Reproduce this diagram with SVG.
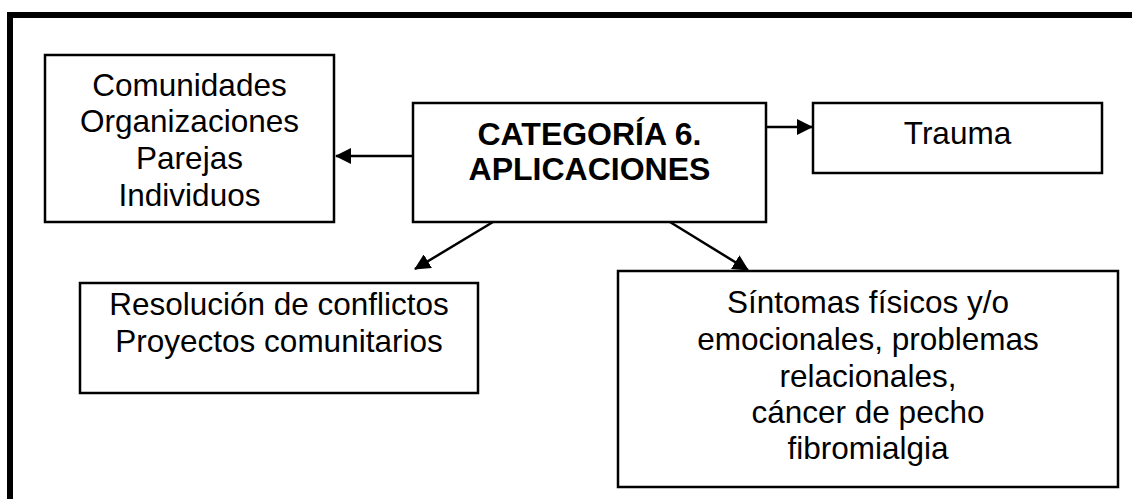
<svg xmlns="http://www.w3.org/2000/svg" width="1132" height="499" viewBox="0 0 1132 499">
<style>
  .box { fill: #ffffff; stroke: #000000; stroke-width: 2.5; }
  .t { font-family: "Liberation Sans", Arial, sans-serif; font-size: 31.5px; fill: #000000; text-anchor: middle; }
  .b { font-weight: bold; font-size: 32px; }
  .conn { stroke: #000000; stroke-width: 2.5; fill: none; marker-end: url(#arr); }
</style>
<defs>
  <marker id="arr" markerWidth="16" markerHeight="16" refX="15" refY="8" orient="auto" markerUnits="userSpaceOnUse">
    <path d="M0,0 L16,8 L0,16 Z" fill="#000000"/>
  </marker>
</defs>
<rect x="0" y="0" width="1132" height="499" fill="#ffffff"/>
<path d="M10,499 V15 H1132" fill="none" stroke="#000000" stroke-width="6"/>

<g id="connectors">
  <line class="conn" x1="413" y1="156" x2="336" y2="156"/>
  <line class="conn" x1="766" y1="127" x2="812" y2="127"/>
  <line class="conn" x1="493" y1="222" x2="415" y2="269"/>
  <line class="conn" x1="670" y1="222" x2="748" y2="270"/>
</g>

<g id="node-center">
  <rect class="box" x="413" y="103" width="353" height="119"/>
  <text class="t b" x="589.5" y="145">CATEGORÍA 6.</text>
  <text class="t b" x="589.5" y="180">APLICACIONES</text>
</g>

<g id="node-comunidades">
  <rect class="box" x="45" y="55" width="289" height="167"/>
  <text class="t" x="189.5" y="96">Comunidades</text>
  <text class="t" x="189.5" y="132">Organizaciones</text>
  <text class="t" x="189.5" y="169">Parejas</text>
  <text class="t" x="189.5" y="206">Individuos</text>
</g>

<g id="node-trauma">
  <rect class="box" x="813" y="103" width="289" height="70"/>
  <text class="t" x="957.5" y="144">Trauma</text>
</g>

<g id="node-resolucion">
  <rect class="box" x="80" y="283" width="398" height="110"/>
  <text class="t" x="279" y="315">Resolución de conflictos</text>
  <text class="t" x="279" y="352">Proyectos comunitarios</text>
</g>

<g id="node-sintomas">
  <rect class="box" x="618" y="271" width="500" height="216"/>
  <text class="t" x="868" y="313">Síntomas físicos y/o</text>
  <text class="t" x="868" y="350">emocionales, problemas</text>
  <text class="t" x="868" y="387">relacionales,</text>
  <text class="t" x="868" y="423">cáncer de pecho</text>
  <text class="t" x="868" y="459">fibromialgia</text>
</g>
</svg>
